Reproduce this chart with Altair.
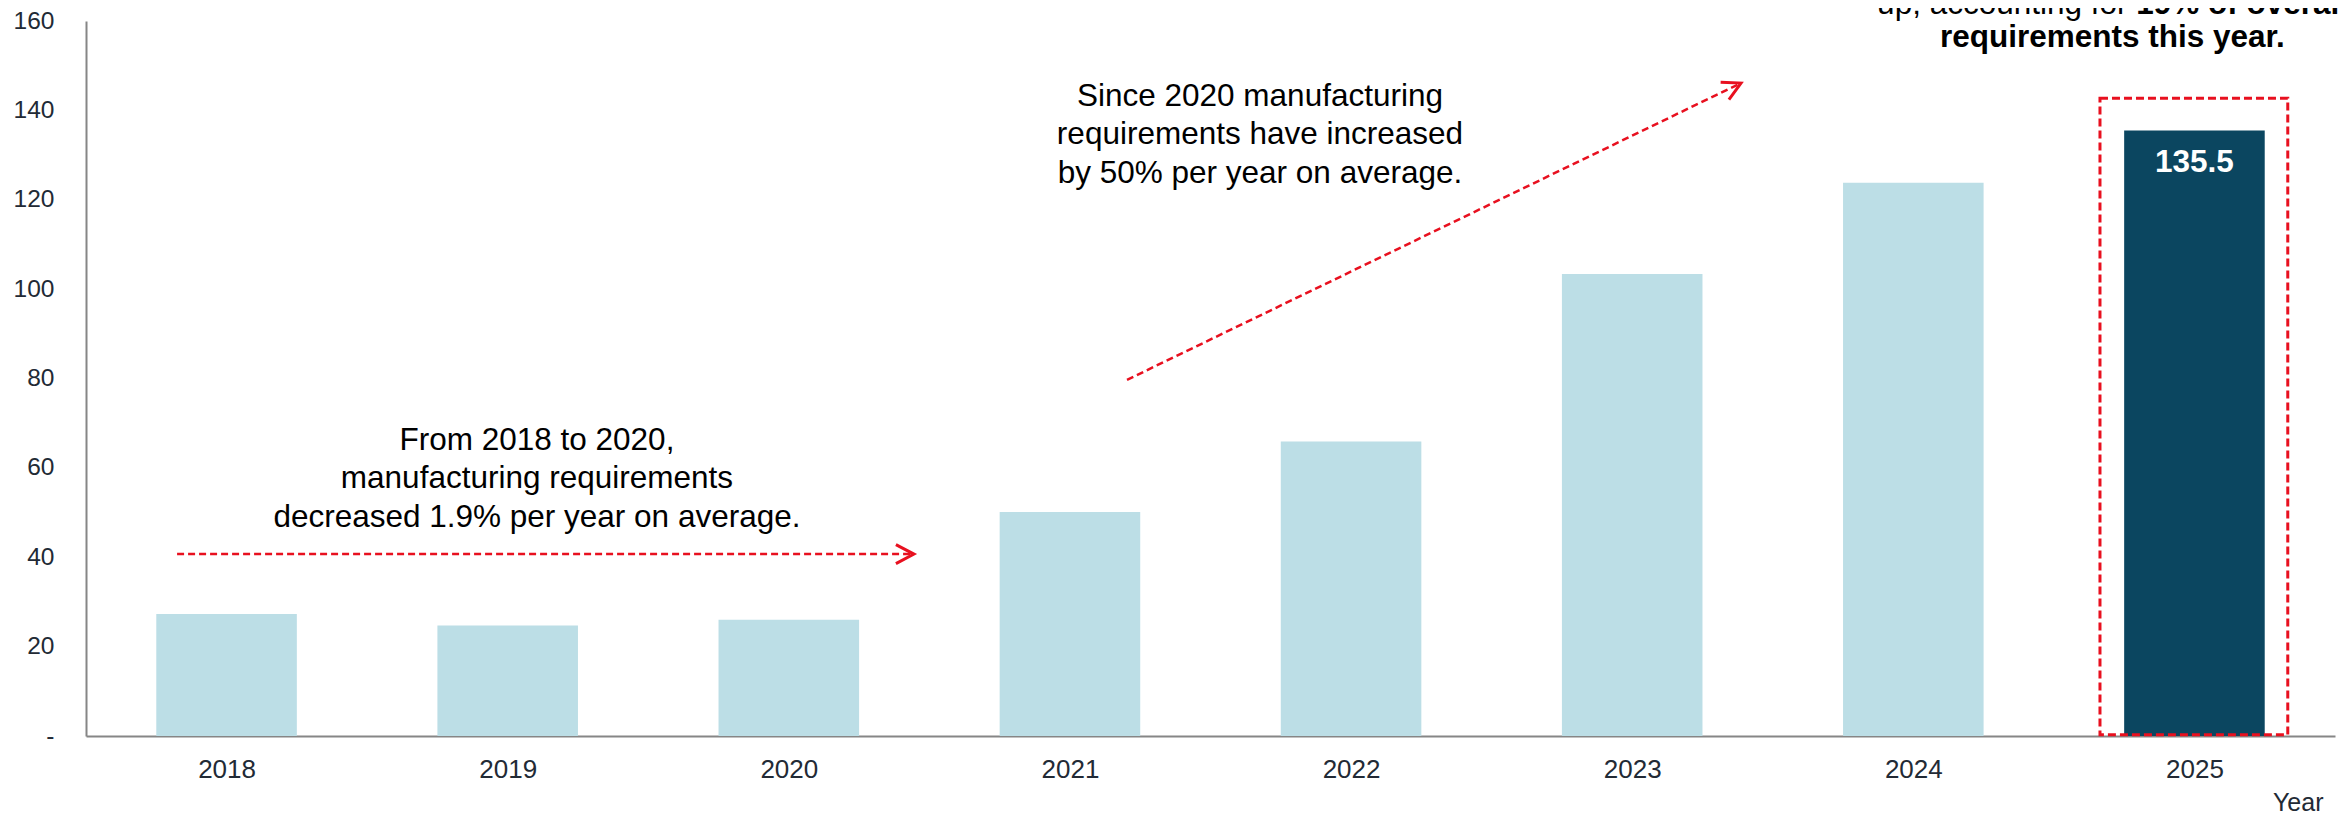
import altair as alt
import pandas as pd

# ---------------- data ----------------
years = ["2018", "2019", "2020", "2021", "2022", "2023", "2024", "2025"]
requirements = [27.3, 24.7, 26.0, 50.1, 65.9, 103.4, 123.8, 135.5]
highlight = ["base", "base", "base", "base", "base", "base", "base", "focus"]
y_ticks = [0, 20, 40, 60, 80, 100, 120, 140, 160]

# annotation geometry, in category-slot units (x, 0..8) and value units (y)
arrow_x = [0.324, 3.703]
arrow_x2 = [2.938, 5.880]
arrow_y = [40.7, 79.7]
arrow_y2 = [40.7, 145.9]
head_x = [2.945, 5.887]
head_y = [40.7, 146.1]
head_angle = [0, 334.2]

note_text = [
    "From 2018 to 2020,\nmanufacturing requirements\ndecreased 1.9% per year on average.",
    "Since 2020 manufacturing\nrequirements have increased\nby 50% per year on average.",
]
note_x = [1.604, 4.176]
note_y = [66.1, 143.1]

callout_plain = ["up, accounting for"]
callout_bold = ["19% of overall", "requirements this year."]
callout_plain_x = [7.262]
callout_bold_x = [7.293, 7.208]
callout_y = [161.6, 154.07]

box_x = [7.164]
box_x2 = [7.832]
box_y = [0.3]
box_y2 = [142.7]

# ---------------- styles ----------------
FONT = "Liberation Sans, Arial, sans-serif"
RED = "#e8101f"
LIGHT = "#bcdee6"
DARK = "#0b4660"
AXIS_GRAY = "#868686"
LABEL = "#222a35"
W, H = 2249, 715

idx = list(range(len(years)))
bars_df = pd.DataFrame({
    "year": years,
    "value": requirements,
    "hl": highlight,
    "xc": [i + 0.5 for i in idx],
    "x0": [i + 0.25 for i in idx],
    "x1": [i + 0.75 for i in idx],
})
arrows_df = pd.DataFrame({"sx": arrow_x, "sx2": arrow_x2, "v": arrow_y, "v2": arrow_y2})
heads_df = pd.DataFrame({"sx": head_x, "v": head_y, "ang": head_angle})
notes_df = pd.DataFrame({"sx": note_x, "v": note_y, "t": note_text})
plain_df = pd.DataFrame({"sx": callout_plain_x, "v": callout_y[:1], "t": callout_plain})
bold_df = pd.DataFrame({"sx": callout_bold_x[:1], "v": callout_y[:1], "t": callout_bold[:1]})
bold2_df = pd.DataFrame({"sx": callout_bold_x[1:], "v": callout_y[1:], "t": callout_bold[1:]})
box_df = pd.DataFrame({"sx": box_x, "sx2": box_x2, "v": box_y, "v2": box_y2})

xscale = alt.Scale(domain=[0, len(years)], nice=False, zero=False)
yscale = alt.Scale(domain=[0, 160], nice=False, zero=True)

year_js = "[" + ",".join("'%s'" % y for y in years) + "]"

x_axis = alt.Axis(
    values=[i + 0.5 for i in idx],
    labelExpr=year_js + "[floor(datum.value)]",
    labelFlush=False, labelOverlap=False,
    labelAngle=0, labelFontSize=26, labelColor=LABEL, labelFont=FONT,
    labelPadding=20, ticks=False, tickSize=0, grid=False,
    domainColor=AXIS_GRAY, domainWidth=2,
    title="Year", titleFont=FONT, titleFontSize=25, titleFontWeight="normal",
    titleColor=LABEL, titleAnchor="end", titleAlign="right",
    titleX=2237, titleY=74, titleBaseline="alphabetic",
)
y_axis = alt.Axis(
    values=y_ticks, labelFontSize=24.5, labelColor=LABEL, labelFont=FONT,
    labelPadding=32, ticks=False, tickSize=0, grid=False,
    domainColor=AXIS_GRAY, domainWidth=2, title="",
    labelExpr="datum.value == 0 ? '-\u00a0\u00a0' : datum.label",
)

bars = alt.Chart(bars_df).mark_rect().encode(
    x=alt.X("x0:Q", scale=xscale, axis=x_axis),
    x2="x1:Q",
    y=alt.Y("value:Q", scale=yscale, axis=y_axis),
    y2=alt.datum(0),
    color=alt.Color("hl:N", scale=alt.Scale(domain=["base", "focus"], range=[LIGHT, DARK]), legend=None),
)

value_label = alt.Chart(bars_df).transform_filter("datum.hl == 'focus'").mark_text(
    font=FONT, fontSize=31.5, fontWeight="bold", color="white",
    baseline="alphabetic", align="center", dy=42,
).encode(
    x=alt.X("xc:Q", scale=xscale),
    y=alt.Y("value:Q", scale=yscale),
    text=alt.Text("value:Q", format=".1f"),
)

def qpos():
    return dict(
        x=alt.X("sx:Q", scale=xscale),
        y=alt.Y("v:Q", scale=yscale),
    )

arrows = alt.Chart(arrows_df).mark_rule(
    color=RED, strokeWidth=2.5, strokeDash=[7, 4]
).encode(x2="sx2:Q", y2="v2:Q", **qpos())

heads = alt.Chart(heads_df).mark_point(
    shape="M -1 -0.53 L 0 0 L -1 0.53", filled=False, size=1296,
    stroke=RED, strokeWidth=3, opacity=1, strokeJoin="miter",
).encode(angle=alt.Angle("ang:Q", scale=None), **qpos())

notes = alt.Chart(notes_df).mark_text(
    font=FONT, fontSize=31.5, color="black", align="center",
    baseline="middle", lineBreak="\n", lineHeight=38.5,
).encode(text="t:N", **qpos())

plain = alt.Chart(plain_df).mark_text(
    font=FONT, fontSize=31.5, color="black", align="right", baseline="alphabetic",
).encode(text="t:N", **qpos())

bold1 = alt.Chart(bold_df).mark_text(
    font=FONT, fontSize=31.5, fontWeight="bold", color="black",
    align="left", baseline="alphabetic",
).encode(text="t:N", **qpos())

bold2 = alt.Chart(bold2_df).mark_text(
    font=FONT, fontSize=31.5, fontWeight="bold", color="black",
    align="center", baseline="alphabetic",
).encode(text="t:N", **qpos())

box = alt.Chart(box_df).mark_rect(
    filled=False, stroke=RED, strokeWidth=3, strokeDash=[8, 4],
).encode(x2="sx2:Q", y2="v2:Q", **qpos())

chart = alt.layer(
    bars, value_label, box, arrows, heads, notes, plain, bold1, bold2
).properties(
    width=W, height=H,
    autosize=alt.AutoSizeParams(type="none"),
    padding={"left": 78, "top": 13, "right": 5, "bottom": 78},
    background="white",
).configure(font=FONT).configure_view(strokeWidth=0)

chart.save("out.html", embed_options={"renderer": "svg", "actions": False})
